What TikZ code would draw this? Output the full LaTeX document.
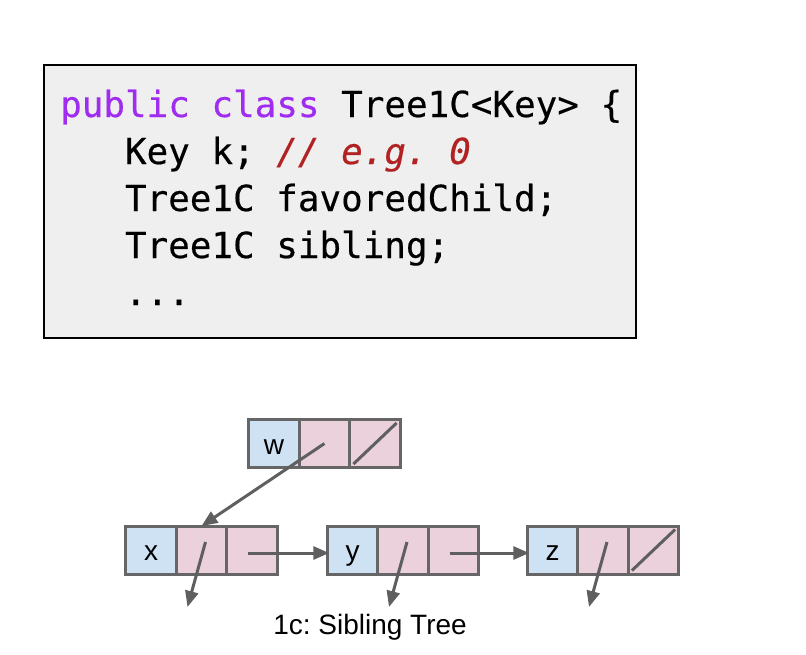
\documentclass[tikz,border=0pt]{standalone}
\usepackage{fontspec}
\setmainfont{Liberation Sans}
\newfontfamily\codefont{DejaVu Sans Mono}[ItalicFont={* Oblique},FakeBold=0.4]
\frenchspacing
\usetikzlibrary{arrows.meta,calc,positioning}

\definecolor{keyblue}{HTML}{CFE2F3}
\definecolor{ptrpink}{HTML}{EAD1DC}
\definecolor{cellgray}{HTML}{666666}
\definecolor{arrowgray}{HTML}{5F5F5F}
\definecolor{codebg}{HTML}{EFEFEF}
\definecolor{kwpurple}{HTML}{A02CF0}
\definecolor{cmtred}{HTML}{B22222}

\tikzset{
  cell/.style={draw=cellgray,line width=3pt,minimum width=50.5pt,minimum height=48pt,
    inner sep=0pt,outer sep=0pt,text height=21pt,text depth=0pt,
    font=\fontsize{28}{28}\selectfont},
  keycell/.style={cell,fill=keyblue},
  ptrcell/.style={cell,fill=ptrpink},
  ref/.style={draw=arrowgray,line width=3pt,-{Triangle[length=16pt,width=13pt]}},
  nullref/.style={draw=arrowgray,line width=3pt,shorten <=5pt,shorten >=5pt},
  codeline/.style={anchor=base west,inner sep=0pt,
    font=\codefont\fontsize{35.9}{47}\selectfont}
}

\begin{document}
\begin{tikzpicture}[x=1pt,y=-1pt]
\useasboundingbox (0,0) rectangle (806,654);

\node[draw=black,fill=codebg,line width=2pt,minimum width=592pt,minimum height=273pt,inner sep=0pt] (codebox) at (340,201.5) {};
\node[codeline] (line1) at (60,117) {{\color{kwpurple}public class} Tree1C<Key> \{};
\node[codeline] (line2) at (124.8,164) {Key k; {\color{cmtred}\itshape // e.g. 0}};
\node[codeline] (line3) at (124.8,211) {Tree1C favoredChild;};
\node[codeline] (line4) at (124.8,258) {Tree1C sibling;};
\node[codeline] (line5) at (124.8,305) {...};

\node[keycell] (key-w) at (274,443.5) {w};
\node[keycell] (key-x) at (151,550) {x};
\node[keycell] (key-y) at (352.5,550) {y};
\node[keycell] (key-z) at (552.5,550) {z};
\foreach \n in {w,x,y,z}{
  \node[ptrcell,right=0pt of key-\n] (fav-\n) {};
  \node[ptrcell,right=0pt of fav-\n] (sib-\n) {};
}

\draw[ref] (fav-w.center) -- (fav-x.north);
\foreach \n in {x,y,z}{
  \coordinate (down-\n) at ($(fav-\n.south)+(-14,33)$);
  \draw[ref] ($(fav-\n.center)+(4,-8)$) -- (down-\n);
}
\draw[ref] ($(sib-x.center)+(-4,3)$) -- ($(key-y.west)+(2,3)$);
\draw[ref] ($(sib-y.center)+(-4,3)$) -- ($(key-z.west)+(2,3)$);
\draw[nullref] (sib-w.south west) -- (sib-w.north east);
\draw[nullref] (sib-z.south west) -- (sib-z.north east);

\node[font=\fontsize{28}{28}\selectfont] (caption) at (370,627) {1c: Sibling Tree};

\end{tikzpicture}
\end{document}
